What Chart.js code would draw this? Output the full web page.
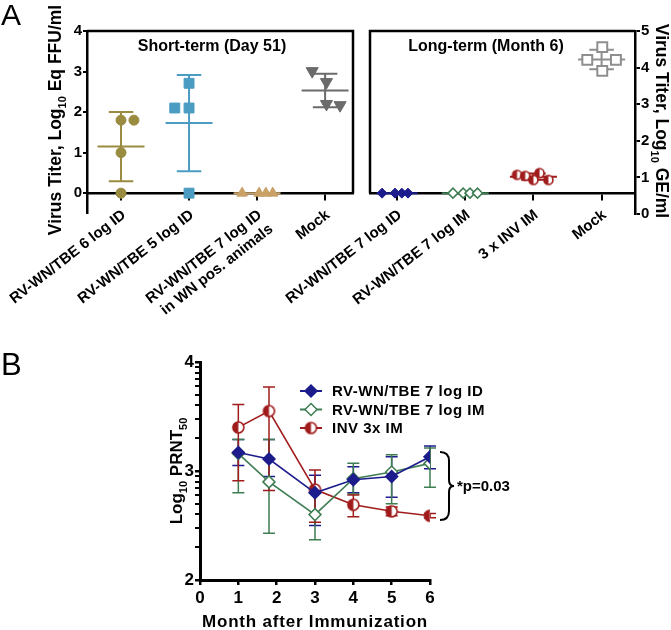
<!DOCTYPE html>
<html><head><meta charset="utf-8">
<script src="https://cdn.jsdelivr.net/npm/chart.js@4/dist/chart.umd.min.js"></script>
<style>
html,body{margin:0;padding:0;background:#fff;}
#wrap{position:relative;width:671px;height:630px;overflow:hidden;}
canvas{position:absolute;}
</style></head><body>
<div id="wrap">
<canvas id="cA1" width="362" height="320" style="left:0;top:0"></canvas>
<canvas id="cA2" width="501" height="320" style="left:170px;top:0"></canvas>
<canvas id="cB" width="671" height="310" style="left:0;top:320px"></canvas>
</div>
<script>
// ---------- DATA ----------
// Panel A, short-term (Day 51), Log10 Eq FFU/ml
const shortCategories = ['RV-WN/TBE 6 log ID', 'RV-WN/TBE 5 log ID', ['RV-WN/TBE 7 log ID', 'in WN pos. animals'], 'Mock'];
const short6logID   = [1.80, 1.80, 1.00, 0];
const short5logID   = [2.71, 2.10, 2.10, 0];
const short7logIDwn = [0, 0, 0, 0];
const shortMock     = [3.01, 2.74, 2.20, 2.17];
const shortTicks    = [0, 1, 2, 3, 4];

// Panel A, long-term (Month 6), Log10 GE/ml
const longCategories = ['RV-WN/TBE 7 log ID', 'RV-WN/TBE 7 log IM', '3 x INV IM', 'Mock'];
const long7logID = [0.57, 0.57, 0.57, 0.57];
const long7logIM = [0.57, 0.57, 0.57, 0.57];
const longINV    = [1.07, 1.04, 1.12, 0.93, 0.93];
const longMock   = [4.56, 4.21, 4.21, 3.91];
const longTicks  = [0, 1, 2, 3, 4, 5];

// Panel B, Log10 PRNT50 over months after immunization
const months   = [1, 1.8, 3, 4, 5, 6];
const idMean   = [3.17, 3.11, 2.80, 2.92, 2.95, 3.13];
const idHigh   = [3.29, 3.29, 2.96, 3.04, 3.13, 3.23];
const idLow    = [3.05, 2.95, 2.50, 2.80, 2.76, 3.02];
const imMean   = [3.16, 2.90, 2.60, 2.93, 2.99, 3.07];
const imHigh   = [3.29, 3.29, 2.80, 3.07, 3.15, 3.21];
const imLow    = [2.80, 2.43, 2.37, 2.79, 2.70, 2.85];
const invMean  = [3.40, 3.55, 2.83, 2.69, 2.63, 2.59];
const invHigh  = [3.61, 3.77, 3.01, 2.78, 2.67, 2.61];
const invLow   = [2.91, 2.82, 2.53, 2.58, 2.59, 2.57];
const bMonthTicks = [0, 1, 2, 3, 4, 5, 6];
const bMajorTicks = [2, 3, 4];
const seriesNames = ['RV-WN/TBE 7 log ID', 'RV-WN/TBE 7 log IM', 'INV 3x IM'];
const pText = '*p=0.03';

// ---------- LAYOUT / STYLE ----------
// horizontal scatter offsets (in category units) for dot-plot points
const shortJitter = [[0, 0.19, 0, 0], [0, -0.21, 0, 0], [-0.22, 0.03, 0.13, 0.23], [-0.19, 0.02, 0.02, 0.22]];
const longJitter  = [[-0.22, -0.03, 0.07, 0.16], [-0.18, -0.03, 0.07, 0.18], [-0.24, -0.12, 0.09, 0, 0.22], [0.01, -0.21, 0.21, 0.01]];

const OLIVE = '#998b40', SKY = '#4b9cc3', TAN = '#c9a167', GRAY = '#6b6b6b',
      NAVY = '#1c1c8c', GREEN = '#3f7d52', RED = '#a01c1c', LGRAY = '#8e8e8e';
const FONT = '"Liberation Sans", Arial, Helvetica, sans-serif';
Chart.defaults.font.family = FONT;
Chart.defaults.color = '#000';

function halfCircle(color, r) {
  const c = document.createElement('canvas');
  const s = Math.ceil(2 * r + 4);
  c.width = s; c.height = s;
  const g = c.getContext('2d');
  const cx = s / 2, cy = s / 2;
  g.fillStyle = '#fff'; g.beginPath(); g.arc(cx, cy, r, 0, Math.PI * 2); g.fill();
  g.fillStyle = color; g.beginPath(); g.moveTo(cx, cy); g.arc(cx, cy, r, Math.PI / 2, Math.PI * 1.5); g.closePath(); g.fill();
  g.strokeStyle = color; g.lineWidth = 1.6; g.beginPath(); g.arc(cx, cy, r, 0, Math.PI * 2); g.stroke();
  return c;
}

function meanSD(a) {
  const n = a.length, m = a.reduce((s, v) => s + v, 0) / n;
  const sd = n > 1 ? Math.sqrt(a.reduce((s, v) => s + (v - m) * (v - m), 0) / (n - 1)) : 0;
  return { m, sd };
}

function drawMeanSD(ctx, xs, ys, g) {
  const { m, sd } = meanSD(g.vals);
  const xc = xs.getPixelForValue(g.cat);
  const hw = xs.getPixelForValue(g.cat + g.half) - xc;
  const cw = xs.getPixelForValue(g.cat + 0.18) - xc;
  ctx.save();
  ctx.strokeStyle = g.color; ctx.lineWidth = 2;
  ctx.beginPath();
  const ym = ys.getPixelForValue(m);
  ctx.moveTo(xc - hw, ym); ctx.lineTo(xc + hw, ym);
  if (sd > 0.001) {
    const yt = ys.getPixelForValue(m + sd), yb = ys.getPixelForValue(m - sd);
    ctx.moveTo(xc, yt); ctx.lineTo(xc, yb);
    ctx.moveTo(xc - cw, yt); ctx.lineTo(xc + cw, yt);
    ctx.moveTo(xc - cw, yb); ctx.lineTo(xc + cw, yb);
  }
  ctx.stroke();
  ctx.restore();
}

function drawRich(ctx, parts, cx, cy, rot, size, weight, spacing) {
  ctx.save();
  ctx.translate(cx, cy); ctx.rotate(rot);
  ctx.letterSpacing = (spacing || 0) + 'px';
  const sub = Math.round(size * 0.64);
  let w = 0;
  for (const p of parts) { ctx.font = `${weight} ${p.sub ? sub : size}px ${FONT}`; w += ctx.measureText(p.t).width; }
  let x = -w / 2;
  ctx.textAlign = 'left'; ctx.textBaseline = 'alphabetic'; ctx.fillStyle = '#000';
  const base = size * 0.36;
  for (const p of parts) {
    ctx.font = `${weight} ${p.sub ? sub : size}px ${FONT}`;
    ctx.fillText(p.t, x, base + (p.sub ? size * 0.26 : 0));
    x += ctx.measureText(p.t).width;
  }
  ctx.restore();
}

function drawText(ctx, t, x, y, font, align, spacing) {
  ctx.save();
  ctx.letterSpacing = (spacing || 0) + 'px';
  ctx.font = font; ctx.fillStyle = '#000'; ctx.textAlign = align || 'left'; ctx.textBaseline = 'middle';
  ctx.fillText(t, x, y);
  ctx.restore();
}

function zeroPad(s) { s.paddingLeft = 0; s.paddingRight = 0; s.paddingTop = 0; s.paddingBottom = 0; }

function pts(vals, cat, jit) { return vals.map((v, i) => ({ x: cat + jit[i], y: v })); }

const tickFontA = { size: 15, weight: 'bold' };
const catFont = { size: 15, weight: 'bold' };
const CAT_ROT = 38;

// ---------- PANEL A (left) ----------
const a1Plugin = {
  id: 'a1',
  beforeDatasetsDraw(chart) {
    const ctx = chart.ctx, xs = chart.scales.x, ys = chart.scales.y;
    [{ vals: short6logID, cat: 1, color: OLIVE, half: 0.345 },
     { vals: short5logID, cat: 2, color: SKY, half: 0.345 },
     { vals: short7logIDwn, cat: 3, color: TAN, half: 0.345 },
     { vals: shortMock, cat: 4, color: GRAY, half: 0.345 }].forEach(g => drawMeanSD(ctx, xs, ys, g));
  },
  afterDraw(chart) {
    const ctx = chart.ctx, a = chart.chartArea, ys = chart.scales.y;
    ctx.save();
    ctx.strokeStyle = '#000'; ctx.lineWidth = 2.5;
    ctx.beginPath();
    ctx.moveTo(a.left, a.top); ctx.lineTo(a.right, a.top); ctx.lineTo(a.right, ys.getPixelForValue(0));
    ctx.stroke();
    ctx.restore();
    drawText(ctx, 'Short-term (Day 51)', 212, 47, `bold 16px ${FONT}`, 'center');
    drawRich(ctx, [{ t: 'Virus Titer, Log' }, { t: '10', sub: true }, { t: ' Eq FFU/ml' }], 55, 120, -Math.PI / 2, 17.5, 'bold', 0);
    ctx.save(); ctx.font = `30px ${FONT}`; ctx.fillStyle = '#000'; ctx.textBaseline = 'alphabetic'; ctx.fillText('A', 1, 25); ctx.restore();
  }
};

new Chart(document.getElementById('cA1'), {
  type: 'scatter',
  data: {
    datasets: [
      { data: pts(short6logID, 1, shortJitter[0]), pointStyle: 'circle', pointRadius: 5, backgroundColor: OLIVE, borderColor: OLIVE },
      { data: pts(short5logID, 2, shortJitter[1]), pointStyle: 'rect', pointRadius: 7, backgroundColor: SKY, borderColor: SKY },
      { data: pts(short7logIDwn, 3, shortJitter[2]), pointStyle: 'triangle', pointRadius: 6, backgroundColor: TAN, borderColor: TAN },
      { data: pts(shortMock, 4, shortJitter[3]), pointStyle: 'triangle', rotation: 180, pointRadius: 7, backgroundColor: GRAY, borderColor: GRAY }
    ]
  },
  options: {
    responsive: false, animation: false, devicePixelRatio: 1,
    layout: { padding: { left: 0, top: 31, right: 9, bottom: 107 } },
    plugins: { legend: { display: false }, tooltip: { enabled: false } },
    scales: {
      x: {
        type: 'linear', min: 0.5, max: 4.41, position: { y: 0 },
        afterBuildTicks: s => { s.ticks = [1, 2, 3, 4].map(v => ({ value: v })); },
        afterFit: zeroPad,
        ticks: { callback: v => shortCategories[Math.round(v) - 1], autoSkip: false, minRotation: CAT_ROT, maxRotation: CAT_ROT, font: catFont, color: '#000', padding: 7, labelOffset: 3 },
        grid: { drawOnChartArea: false, drawTicks: true, tickLength: 6, color: '#000', lineWidth: 2 },
        border: { display: true, color: '#000', width: 2.5 }
      },
      y: {
        type: 'linear', min: -0.49, max: 4, position: 'left',
        afterBuildTicks: s => { s.ticks = shortTicks.map(v => ({ value: v })); },
        afterFit: s => { s.width = 87; },
        ticks: { font: tickFontA, color: '#000', padding: 1 },
        grid: { drawOnChartArea: false, tickLength: 4, color: '#000', lineWidth: 2 },
        border: { display: true, color: '#000', width: 2.5 }
      }
    }
  },
  plugins: [a1Plugin]
});

// ---------- PANEL A (right) ----------
const A2_OFF = 170;
const a2Plugin = {
  id: 'a2',
  beforeDatasetsDraw(chart) {
    const ctx = chart.ctx, xs = chart.scales.x, ys = chart.scales.y;
    [{ vals: long7logID, cat: 1, color: NAVY, half: 0.3 },
     { vals: long7logIM, cat: 2, color: GREEN, half: 0.345 },
     { vals: longINV, cat: 3, color: RED, half: 0.345 },
     { vals: longMock, cat: 4, color: LGRAY, half: 0.345 }].forEach(g => drawMeanSD(ctx, xs, ys, g));
  },
  afterDraw(chart) {
    const ctx = chart.ctx, a = chart.chartArea, ys = chart.scales.y;
    ctx.save();
    ctx.strokeStyle = '#000'; ctx.lineWidth = 2.5;
    ctx.beginPath();
    ctx.moveTo(a.left, ys.getPixelForValue(0.57)); ctx.lineTo(a.left, a.top); ctx.lineTo(a.right, a.top);
    ctx.stroke();
    ctx.restore();
    drawText(ctx, 'Long-term (Month 6)', 486 - A2_OFF, 47, `bold 16px ${FONT}`, 'center');
    drawRich(ctx, [{ t: 'Virus Titer, Log' }, { t: '10', sub: true }, { t: ' GE/ml' }], 662 - A2_OFF, 121, Math.PI / 2, 17.5, 'bold', 0);
  }
};

new Chart(document.getElementById('cA2'), {
  type: 'scatter',
  data: {
    datasets: [
      { data: pts(long7logID, 1, longJitter[0]), pointStyle: 'rectRot', pointRadius: 5, backgroundColor: NAVY, borderColor: NAVY },
      { data: pts(long7logIM, 2, longJitter[1]), pointStyle: 'rectRot', pointRadius: 5, backgroundColor: '#fff', borderColor: GREEN, borderWidth: 1.5 },
      { data: pts(longINV, 3, longJitter[2]), pointStyle: halfCircle(RED, 4.5), pointRadius: 5 },
      { data: pts(longMock, 4, longJitter[3]), pointStyle: 'rect', pointRadius: 7, backgroundColor: '#fff', borderColor: LGRAY, borderWidth: 2 }
    ]
  },
  options: {
    responsive: false, animation: false, devicePixelRatio: 1,
    layout: { padding: { left: 370 - A2_OFF, top: 31, right: 0, bottom: 106 } },
    plugins: { legend: { display: false }, tooltip: { enabled: false } },
    scales: {
      x: {
        type: 'linear', min: 0.603, max: 4.49, position: { y: 0.57 },
        afterBuildTicks: s => { s.ticks = [1, 2, 3, 4].map(v => ({ value: v })); },
        afterFit: zeroPad,
        ticks: { callback: v => longCategories[Math.round(v) - 1], autoSkip: false, minRotation: CAT_ROT, maxRotation: CAT_ROT, font: catFont, color: '#000', padding: 7, labelOffset: 3 },
        grid: { drawOnChartArea: false, drawTicks: true, tickLength: 6, color: '#000', lineWidth: 2 },
        border: { display: true, color: '#000', width: 2.5 }
      },
      y: {
        type: 'linear', min: 0, max: 5, position: 'right',
        afterBuildTicks: s => { s.ticks = longTicks.map(v => ({ value: v })); },
        afterFit: s => { s.width = 36; },
        ticks: { font: tickFontA, color: '#000', padding: 1 },
        grid: { drawOnChartArea: false, tickLength: 5, color: '#000', lineWidth: 2 },
        border: { display: true, color: '#000', width: 2.5 }
      }
    }
  },
  plugins: [a2Plugin]
});

// ---------- PANEL B ----------
const bSeries = [
  { mean: idMean, hi: idHigh, lo: idLow, color: NAVY },
  { mean: imMean, hi: imHigh, lo: imLow, color: GREEN },
  { mean: invMean, hi: invHigh, lo: invLow, color: RED }
];
const invMarker = halfCircle(RED, 5.5);

function drawMarker(ctx, i, x, y) {
  ctx.save();
  if (i === 2) { ctx.drawImage(invMarker, x - invMarker.width / 2, y - invMarker.height / 2); ctx.restore(); return; }
  const r = 6;
  ctx.beginPath(); ctx.moveTo(x, y - r); ctx.lineTo(x + r, y); ctx.lineTo(x, y + r); ctx.lineTo(x - r, y); ctx.closePath();
  ctx.fillStyle = i === 0 ? NAVY : '#fff'; ctx.fill();
  ctx.strokeStyle = i === 0 ? NAVY : GREEN; ctx.lineWidth = 1.5; ctx.stroke();
  ctx.restore();
}

const bPlugin = {
  id: 'bp',
  beforeDatasetsDraw(chart) {
    const ctx = chart.ctx, xs = chart.scales.x, ys = chart.scales.y;
    ctx.save();
    ctx.lineWidth = 1.5;
    bSeries.forEach(s => {
      ctx.strokeStyle = s.color;
      ctx.beginPath();
      months.forEach((m, i) => {
        const x = xs.getPixelForValue(m), yt = ys.getPixelForValue(s.hi[i]), yb = ys.getPixelForValue(s.lo[i]);
        ctx.moveTo(x, yt); ctx.lineTo(x, yb);
        ctx.moveTo(x - 6, yt); ctx.lineTo(x + 6, yt);
        ctx.moveTo(x - 6, yb); ctx.lineTo(x + 6, yb);
      });
      ctx.stroke();
    });
    ctx.restore();
  },
  afterDraw(chart) {
    const ctx = chart.ctx;
    // legend
    seriesNames.forEach((name, i) => {
      const y = 71 + i * 18.5;
      ctx.save(); ctx.strokeStyle = bSeries[i].color; ctx.lineWidth = 2;
      ctx.beginPath(); ctx.moveTo(300, y); ctx.lineTo(322, y); ctx.stroke(); ctx.restore();
      drawMarker(ctx, i, 311, y);
      drawText(ctx, name, 332, y + 1, `bold 15px ${FONT}`, 'left', 0.5);
    });
    // bracket
    ctx.save(); ctx.strokeStyle = '#000'; ctx.lineWidth = 2;
    ctx.beginPath();
    ctx.moveTo(440, 132); ctx.quadraticCurveTo(449, 132, 449, 141);
    ctx.lineTo(449, 160); ctx.quadraticCurveTo(449, 166, 454, 166);
    ctx.quadraticCurveTo(449, 166, 449, 172); ctx.lineTo(449, 191);
    ctx.quadraticCurveTo(449, 200, 440, 200);
    ctx.stroke(); ctx.restore();
    drawText(ctx, pText, 457, 167, `bold 15px ${FONT}`, 'left');
    // titles
    drawRich(ctx, [{ t: 'Log' }, { t: '10', sub: true }, { t: ' PRNT' }, { t: '50', sub: true }], 176, 151, -Math.PI / 2, 17, 'bold', 0);
    drawText(ctx, 'Month after Immunization', 315, 302, `bold 17px ${FONT}`, 'center', 0.8);
    ctx.save(); ctx.font = `31px ${FONT}`; ctx.fillStyle = '#000'; ctx.textBaseline = 'alphabetic'; ctx.fillText('B', 1, 55); ctx.restore();
  }
};

const bMinor = [];
bMajorTicks.slice(0, -1).forEach(d => { for (let k = 1; k <= 9; k++) bMinor.push(d + Math.log10(k)); });
bMinor.push(bMajorTicks[bMajorTicks.length - 1]);

new Chart(document.getElementById('cB'), {
  type: 'line',
  data: {
    datasets: [
      { label: seriesNames[0], data: months.map((m, i) => ({ x: m, y: idMean[i] })), borderColor: NAVY, backgroundColor: NAVY, borderWidth: 1.6, pointStyle: 'rectRot', pointRadius: 6, pointBorderWidth: 1.5, tension: 0 },
      { label: seriesNames[1], data: months.map((m, i) => ({ x: m, y: imMean[i] })), borderColor: GREEN, backgroundColor: '#fff', borderWidth: 1.6, pointStyle: 'rectRot', pointRadius: 6, pointBorderWidth: 1.5, tension: 0 },
      { label: seriesNames[2], data: months.map((m, i) => ({ x: m, y: invMean[i] })), borderColor: RED, backgroundColor: RED, borderWidth: 1.6, pointStyle: invMarker, pointRadius: 6, tension: 0 }
    ]
  },
  options: {
    responsive: false, animation: false, devicePixelRatio: 1,
    layout: { padding: { left: 0, top: 42, right: 241, bottom: 0 } },
    plugins: { legend: { display: false }, tooltip: { enabled: false } },
    scales: {
      x: {
        type: 'linear', min: 0, max: 6, position: 'bottom',
        afterBuildTicks: s => { s.ticks = bMonthTicks.map(v => ({ value: v })); },
        afterFit: s => { s.height = 50; },
        ticks: { font: { size: 17, weight: 'bold' }, color: '#000', padding: 3 },
        grid: { drawOnChartArea: false, tickLength: 5, color: '#000', lineWidth: 2.5 },
        border: { display: true, color: '#000', width: 3 }
      },
      y: {
        type: 'linear', min: 2, max: 4, position: 'left',
        afterBuildTicks: s => { s.ticks = bMinor.map(v => ({ value: v })); },
        afterFit: s => { s.width = 200; },
        ticks: { font: { size: 17, weight: 'bold' }, color: '#000', padding: 1, autoSkip: false,
                 callback: v => (Math.abs(v - Math.round(v)) < 1e-6 ? String(Math.round(v)) : '') },
        grid: { drawOnChartArea: false, tickLength: 5, color: '#000', lineWidth: c => (c.tick && Math.abs(c.tick.value - Math.round(c.tick.value)) < 1e-6 ? 2.5 : 2) },
        border: { display: true, color: '#000', width: 3 }
      }
    }
  },
  plugins: [bPlugin]
});
</script>
</body></html>
